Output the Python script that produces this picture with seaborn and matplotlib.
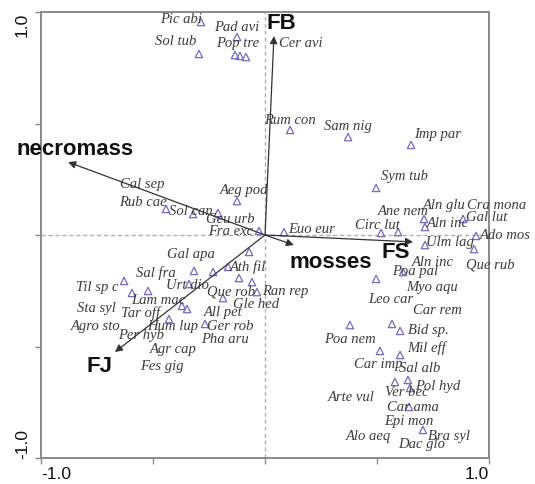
import matplotlib
matplotlib.use("Agg")
import matplotlib.pyplot as plt
import seaborn as sns
import pandas as pd

# ---- species points (triangles) ----
pt_x = [-0.286, -0.125, -0.295, -0.134, -0.112, -0.085,
        0.112, 0.371, 0.652, 0.496,
        0.710, 0.714, 0.884,
        0.518, 0.594, 0.714, 0.942, 0.933,
        0.616, 0.496, 0.379, 0.603, 0.567,
        0.603, 0.513, 0.647, 0.580, 0.638,
        0.643, 0.705,
        -0.442, -0.321, -0.125, -0.210, -0.027, 0.085,
        -0.071, -0.165, -0.232, -0.317, -0.339, -0.629,
        -0.522, -0.594, -0.116, -0.058, -0.036, -0.1875,
        -0.371, -0.348, -0.429, -0.268]
pt_y = [0.955, 0.888, 0.812, 0.807, 0.803, 0.798,
        0.471, 0.439, 0.404, 0.211,
        0.072, 0.036, 0.072,
        0.009, 0.013, -0.045, -0.004, -0.063,
        -0.166, -0.197, -0.404, -0.430, -0.399,
        -0.538, -0.520, -0.686, -0.659, -0.650,
        -0.771, -0.874,
        0.117, 0.094, 0.152, 0.099, 0.018, 0.013,
        -0.076, -0.143, -0.166, -0.161, -0.220, -0.206,
        -0.251, -0.260, -0.193, -0.211, -0.256, -0.283,
        -0.318, -0.332, -0.377, -0.399]

# ---- species labels ----
species = ["Pic abi", "Pad avi", "Sol tub", "Pop tre", "Cer avi",
           "Rum con", "Sam nig", "Imp par", "Sym tub",
           "Ane nem", "Aln glu", "Aln inc", "Cra mona", "Gal lut",
           "Circ lut", "Ulm lag", "Ado mos", "Que rub", "Aln inc",
           "Poa pal", "Leo car", "Myo aqu", "Car rem", "Poa nem",
           "Bid sp.", "Mil eff", "Car imp", "Sal alb", "Pol hyd",
           "Ver bec", "Arte vul", "Car ama", "Epi mon", "Alo aeq",
           "Bra syl", "Dac glo",
           "Cal sep", "Rub cae", "Sol can", "Aeg pod", "Geu urb",
           "Fra exc", "Euo eur", "Gal apa", "Ath fil", "Sal fra",
           "Urt dio", "Til sp c", "Lam mac", "Que rob", "Ran rep",
           "Gle hed", "All pet", "Sta syl", "Tar off", "Agro sto",
           "Hum lup", "Per hyb", "Ger rob", "Pha aru", "Agr cap",
           "Fes gig"]
lab_x = [-0.375, -0.125, -0.397, -0.121, 0.161,
         0.112, 0.371, 0.772, 0.621,
         0.616, 0.799, 0.817, 1.036, 0.991,
         0.500, 0.826, 1.071, 1.004, 0.750,
         0.670, 0.5625, 0.746, 0.768, 0.379,
         0.728, 0.719, 0.504, 0.692, 0.772,
         0.634, 0.384, 0.661, 0.643, 0.460,
         0.821, 0.701,
         -0.549, -0.545, -0.330, -0.094, -0.156,
         -0.152, 0.210, -0.330, -0.076, -0.487,
         -0.348, -0.750, -0.478, -0.152, 0.089,
         -0.040, -0.1875, -0.754, -0.554, -0.754,
         -0.411, -0.554, -0.156, -0.179, -0.411,
         -0.460]
lab_y = [0.969, 0.933, 0.870, 0.865, 0.861,
         0.520, 0.489, 0.457, 0.265,
         0.108, 0.139, 0.058, 0.139, 0.085,
         0.049, -0.027, 0.004, -0.130, -0.117,
         -0.157, -0.283, -0.229, -0.336, -0.462,
         -0.426, -0.502, -0.578, -0.592, -0.677,
         -0.704, -0.722, -0.771, -0.830, -0.897,
         -0.901, -0.937,
         0.229, 0.148, 0.112, 0.202, 0.076,
         0.022, 0.027, -0.085, -0.139, -0.166,
         -0.224, -0.233, -0.287, -0.251, -0.247,
         -0.305, -0.341, -0.327, -0.345, -0.408,
         -0.404, -0.444, -0.404, -0.466, -0.511,
         -0.583]

# ---- environmental variables (arrows) ----
env = ["FB", "necromass", "FS", "mosses", "FJ"]
env_x = [0.040, -0.879, 0.661, 0.129, -0.670]
env_y = [0.892, 0.327, -0.031, -0.045, -0.525]
env_lx = [0.071, -0.848, 0.585, 0.295, -0.741]
env_ly = [0.955, 0.386, -0.076, -0.117, -0.587]

tick_vals = [-1.0, -0.5, 0.0, 0.5, 1.0]
tick_labels = ["-1.0", "", "", "", "1.0"]

sns.set_theme(style="white")
plt.rcParams['font.family'] = ['Liberation Sans', 'DejaVu Sans']

fig = plt.figure(figsize=(5.35, 4.85), dpi=100)
ax = fig.add_axes([41 / 535, 1 - 459 / 485, 448 / 535, 446 / 485])

# zero lines
ax.axhline(0, color="#b0b0b0", lw=1.0, ls=(0, (3, 2)), zorder=1)
ax.axvline(0, color="#b0b0b0", lw=1.0, ls=(0, (3, 2)), zorder=1)

df = pd.DataFrame({"x": pt_x, "y": pt_y})
sns.scatterplot(data=df, x="x", y="y", ax=ax, marker="^", s=28,
                facecolor="none", edgecolor="#6f6cc4", linewidth=0.9, zorder=3)

for name, lx, ly in zip(species, lab_x, lab_y):
    ax.text(lx, ly, name, ha="center", va="center", fontsize=10.5,
            family=["Liberation Serif", "DejaVu Serif"], style="italic",
            color="#3c3c3c", clip_on=False, zorder=4)

for name, ex, ey, lx, ly in zip(env, env_x, env_y, env_lx, env_ly):
    ax.annotate("", xy=(ex, ey), xytext=(0, 0),
                arrowprops=dict(arrowstyle="-|>", color="#333333", lw=0.9,
                                mutation_scale=11, shrinkA=0, shrinkB=0),
                zorder=5)
    ax.text(lx, ly, name, ha="center", va="center", fontsize=16,
            fontweight="bold", color="#111111", zorder=6)

ax.set_xlim(-1.0, 1.0)
ax.set_ylim(-1.0, 1.0)
ax.set_xticks(tick_vals)
ax.set_yticks(tick_vals)
ax.set_xticklabels(tick_labels, fontsize=12.5)
ax.set_yticklabels(tick_labels, fontsize=12.5, rotation=90, va="center")
xt = ax.get_xticklabels()
xt[0].set_ha("left")
xt[-1].set_ha("right")
yt = ax.get_yticklabels()
yt[0].set_va("bottom")
yt[-1].set_va("top")
ax.tick_params(axis="both", direction="out", length=4, width=1,
               color="#888888", labelcolor="#111111", bottom=True, left=True)
ax.tick_params(axis="x", pad=2)
ax.tick_params(axis="y", pad=4)
ax.set_xlabel("")
ax.set_ylabel("")
for sp in ax.spines.values():
    sp.set_color("#8a8a8a")
    sp.set_linewidth(1.4)

fig.savefig("out.png", dpi=100)
